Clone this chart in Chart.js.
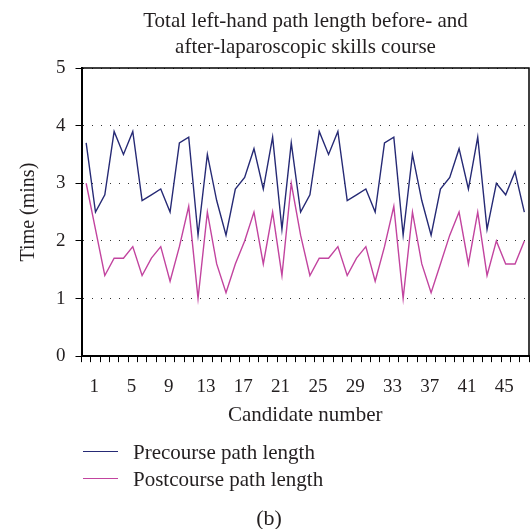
<!DOCTYPE html>
<html>
<head>
<meta charset="utf-8">
<script src="https://cdn.jsdelivr.net/npm/chart.js@4.4.1/dist/chart.umd.min.js"></script>
<style>
  body { margin: 0; background: #fff; }
  #wrap { position: relative; width: 531px; height: 529px; font-family: 'Liberation Serif', serif; color: #231f20; }
  #wrap canvas { position: absolute; left: 0; top: 0; }
  .title { position: absolute; left: 82px; width: 447px; top: 7px; text-align: center; font-size: 21px; line-height: 26px; }
  .leg-line { position: absolute; left: 83px; width: 35px; height: 0; }
  .leg-text { position: absolute; left: 133px; font-size: 21px; line-height: 24px; white-space: nowrap; }
  .caption { position: absolute; left: 238px; width: 62px; top: 506px; text-align: center; font-size: 22px; line-height: 24px; }
</style>
</head>
<body>
<div id="wrap">
  <canvas id="pathchart" width="531" height="529"></canvas>
  <div class="title">Total left-hand path length before- and<br>after-laparoscopic skills course</div>
  <div id="legend"></div>
  <div class="caption">(b)</div>
</div>
<script>
// candidate numbers on the x axis
const candidates = ['1','2','3','4','5','6','7','8','9','10','11','12','13','14','15','16',
  '17','18','19','20','21','22','23','24','25','26','27','28','29','30','31','32',
  '33','34','35','36','37','38','39','40','41','42','43','44','45','46','47','48'];

// time in minutes
const precourse = [3.7, 2.5, 2.8, 3.9, 3.5, 3.9, 2.7, 2.8, 2.9, 2.5, 3.7, 3.8, 2.1, 3.5, 2.7, 2.1,
  2.9, 3.1, 3.6, 2.9, 3.8, 2.2, 3.7, 2.5, 2.8, 3.9, 3.5, 3.9, 2.7, 2.8, 2.9, 2.5,
  3.7, 3.8, 2.1, 3.5, 2.7, 2.1, 2.9, 3.1, 3.6, 2.9, 3.8, 2.2, 3.0, 2.8, 3.2, 2.5];
const postcourse = [3.0, 2.2, 1.4, 1.7, 1.7, 1.9, 1.4, 1.7, 1.9, 1.3, 1.9, 2.6, 1.0, 2.5, 1.6, 1.1,
  1.6, 2.0, 2.5, 1.6, 2.5, 1.4, 3.0, 2.1, 1.4, 1.7, 1.7, 1.9, 1.4, 1.7, 1.9, 1.3,
  1.9, 2.6, 1.0, 2.5, 1.6, 1.1, 1.6, 2.1, 2.5, 1.6, 2.5, 1.4, 2.0, 1.6, 1.6, 2.0];

const labelEvery = 4;
const fontFam = "'Liberation Serif', serif";
const ink = '#231f20';

// thin frame on top and right of the plot
const framePlugin = {
  id: 'frame',
  afterDraw(chart) {
    const a = chart.chartArea, c = chart.ctx;
    c.save();
    c.strokeStyle = '#000';
    c.lineWidth = 1.5;
    c.beginPath();
    c.moveTo(a.left, a.top);
    c.lineTo(a.right, a.top);
    c.lineTo(a.right, a.bottom);
    c.stroke();
    c.restore();
  }
};

const datasets = [
  { label: 'Precourse path length', data: precourse, borderColor: '#262a75', borderWidth: 1.4 },
  { label: 'Postcourse path length', data: postcourse, borderColor: '#c2449f', borderWidth: 1.4 }
];

const chart = new Chart(document.getElementById('pathchart'), {
  type: 'line',
  data: { labels: candidates, datasets: datasets },
  options: {
    responsive: false,
    animation: false,
    elements: { point: { radius: 0 }, line: { tension: 0 } },
    layout: { padding: { left: 14, right: 2, top: 68, bottom: 103 } },
    plugins: { legend: { display: false }, tooltip: { enabled: false } },
    scales: {
      x: {
        offset: true,
        grid: { offset: true, drawOnChartArea: false, tickLength: 6, tickColor: '#000', tickWidth: 1 },
        border: { color: '#000', width: 2 },
        ticks: {
          autoSkip: false, maxRotation: 0, padding: 4, labelOffset: 8,
          color: ink, font: { family: fontFam, size: 19, lineHeight: 2.15 },
          callback: (v, i) => (i % labelEvery === 0 ? candidates[i] : '')
        },
        title: { display: true, text: 'Candidate number', color: ink, font: { family: fontFam, size: 21, lineHeight: 1 }, padding: { top: -6, bottom: 0 } }
      },
      y: {
        min: 0, max: 5,
        ticks: { stepSize: 1, padding: 10, color: ink, font: { family: fontFam, size: 19 } },
        grid: { color: '#333', lineWidth: 1, tickLength: 6, tickColor: '#000', tickWidth: 1 },
        border: { color: '#000', width: 2, dash: [1, 8] },
        title: { display: true, text: 'Time (mins)', color: ink, font: { family: fontFam, size: 20 }, padding: { top: 3, bottom: 5 } }
      }
    }
  },
  plugins: [framePlugin]
});

// legend built from the datasets
const legend = document.getElementById('legend');
datasets.forEach((ds, i) => {
  const y = 452 + i * 27;
  const line = document.createElement('div');
  line.className = 'leg-line';
  line.style.top = (y - 1) + 'px';
  line.style.borderTop = '1.5px solid ' + ds.borderColor;
  const txt = document.createElement('div');
  txt.className = 'leg-text';
  txt.style.top = (y - 12) + 'px';
  txt.textContent = ds.label;
  legend.appendChild(line);
  legend.appendChild(txt);
});
</script>
</body>
</html>
